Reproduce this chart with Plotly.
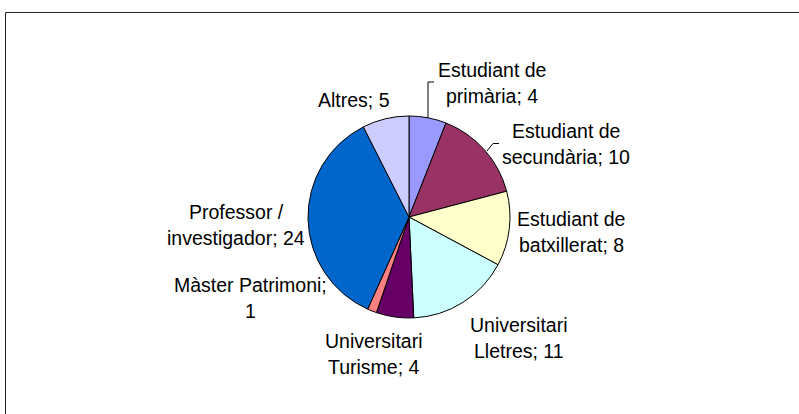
import plotly.graph_objects as go

labels = ["Estudiant de primària", "Estudiant de secundària", "Estudiant de batxillerat",
          "Universitari Lletres", "Universitari Turisme", "Màster Patrimoni",
          "Professor / investigador", "Altres"]
values = [4, 10, 8, 11, 4, 1, 24, 5]
label_lines = [["Estudiant de", "primària; 4"], ["Estudiant de", "secundària; 10"],
               ["Estudiant de", "batxillerat; 8"], ["Universitari", "Lletres; 11"],
               ["Universitari", "Turisme; 4"], ["Màster Patrimoni;", "1"],
               ["Professor /", "investigador; 24"], ["Altres; 5"]]
colors = ["#9999FF", "#993366", "#FFFFCC", "#CCFFFF", "#660066", "#FF8080", "#0066CC", "#CCCCFF"]

W, H = 799, 414
def px(x): return x / W
def py(y): return 1 - y / H

# label positions (pixels): centre x, first-line centre y
label_pos = [(492, 70), (566, 131), (571, 218.5), (519, 325), (374, 340.5),
             (250, 285), (236, 211.5), (354, 100)]
PITCH = 26.3

cx, cy, r = 409, 217, 101

fig = go.Figure(go.Pie(
    labels=labels, values=values, sort=False, direction="clockwise", rotation=0,
    marker=dict(colors=colors, line=dict(color="black", width=1)),
    textinfo="none", hoverinfo="skip", showlegend=False,
    domain=dict(x=[px(cx - r), px(cx + r)], y=[py(cy + r), py(cy - r)]),
))

annotations = []
for lines, (x, y0) in zip(label_lines, label_pos):
    for i, t in enumerate(lines):
        annotations.append(dict(x=px(x), y=py(y0 + i * PITCH), xref="paper", yref="paper", text=t,
                                showarrow=False, xanchor="center", yanchor="middle",
                                font=dict(family="Liberation Sans, Arial", size=19.5, color="black")))

shapes = [
    dict(type="rect", xref="paper", yref="paper", x0=px(5.5), y0=py(430), x1=px(810), y1=py(12.5),
         line=dict(color="#222222", width=1)),
    dict(type="path", xref="paper", yref="paper",
         path=f"M {px(428)} {py(118)} L {px(428)} {py(82)} L {px(434)} {py(82)}",
         line=dict(color="black", width=1)),
    dict(type="path", xref="paper", yref="paper",
         path=f"M {px(487)} {py(151)} L {px(493)} {py(143.5)} L {px(499)} {py(143.5)}",
         line=dict(color="black", width=1)),
]

fig.update_layout(width=W, height=H, margin=dict(l=0, r=0, t=0, b=0),
                  paper_bgcolor="white", plot_bgcolor="white",
                  annotations=annotations, shapes=shapes)
fig.write_html("out.html", config={"displayModeBar": False},
               post_script="document.body.style.margin='0';document.body.style.padding='0';")
